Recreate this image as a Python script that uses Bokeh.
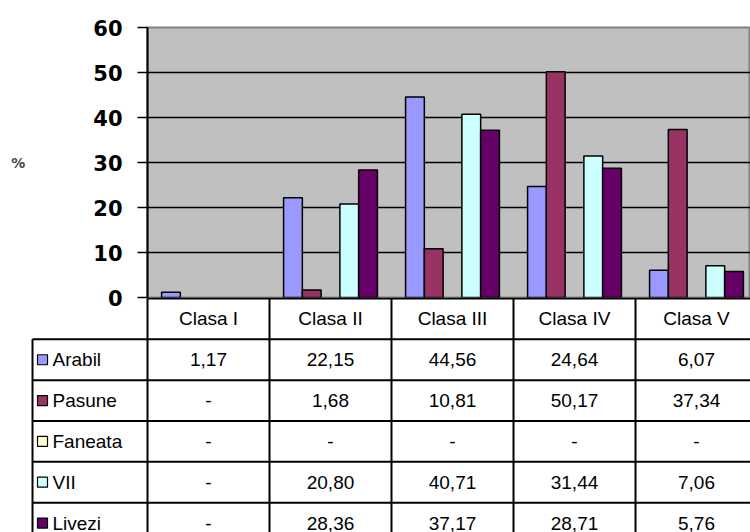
from bokeh.plotting import figure
from bokeh.models import Range1d, FixedTicker, ColumnDataSource
from bokeh.layouts import column
from bokeh.embed import file_html
from bokeh.resources import INLINE
from bokeh.core.properties import value

categories = ["Clasa I", "Clasa II", "Clasa III", "Clasa IV", "Clasa V"]
series_names = ["Arabil", "Pasune", "Faneata", "VII", "Livezi"]
colors = ["#9999FF", "#993366", "#FFFFCC", "#CCFFFF", "#660066"]
arabil = [1.17, 22.15, 44.56, 24.64, 6.07]
pasune = [None, 1.68, 10.81, 50.17, 37.34]
faneata = [None, None, None, None, None]
vii = [None, 20.80, 40.71, 31.44, 7.06]
livezi = [None, 28.36, 37.17, 28.71, 5.76]
y_ticks = [0, 10, 20, 30, 40, 50, 60]

series_values = [arabil, pasune, faneata, vii, livezi]

CAT_PX = 122.0
ROW_PX = 41.0
W = 750
FRAME_TOP = 27
FRAME_BOTTOM = 297
OVERLAP = 14
TOP_H = FRAME_BOTTOM + OVERLAP
BOT_H = 532 - FRAME_BOTTOM
LEFT = 147  # frame left in px
TABLE_FONT = "19px"
n_cat = len(categories)
n_ser = len(series_names)
slots = n_ser + 1.5
bar_w = 1.0 / slots
xmax = (W - LEFT) / CAT_PX

# ---------------- chart ----------------
p = figure(width=W, height=TOP_H, output_backend="svg", toolbar_location=None,
           x_range=Range1d(0, xmax), y_range=Range1d(0, 60),
           x_axis_location=None, min_border_left=LEFT, min_border_right=0,
           min_border_top=FRAME_TOP, min_border_bottom=OVERLAP)
p.frame_align = False
p.background_fill_color = "#C0C0C0"
p.border_fill_color = "white"
p.outline_line_color = "#808080"
p.outline_line_width = 2
p.xgrid.visible = False
p.ygrid.ticker = FixedTicker(ticks=y_ticks)
p.ygrid.grid_line_color = "black"
p.ygrid.grid_line_width = 1.5
p.yaxis.ticker = FixedTicker(ticks=y_ticks)
p.yaxis.minor_tick_line_color = None
p.yaxis.major_tick_in = 0
p.yaxis.major_tick_out = 10
p.yaxis.major_tick_line_width = 1.5
p.yaxis.axis_line_width = 2
p.yaxis.major_label_standoff = 15
p.yaxis.major_label_text_font = "DejaVu Sans"
p.yaxis.major_label_text_font_style = "bold"
p.yaxis.major_label_text_font_size = "21px"
p.yaxis.major_label_text_color = "black"
p.yaxis.axis_label = "%"
p.yaxis.axis_label_orientation = "horizontal"
p.yaxis.axis_label_text_font = "DejaVu Sans"
p.yaxis.axis_label_text_font_style = "bold"
p.yaxis.axis_label_text_font_size = "14px"
p.yaxis.axis_label_standoff = 65

for j, (name, vals, col) in enumerate(zip(series_names, series_values, colors)):
    xs, tops = [], []
    for i, v in enumerate(vals):
        if v is not None:
            xs.append(i + (0.75 + j + 0.5) * bar_w)
            tops.append(v)
    if xs:
        src = ColumnDataSource(dict(x=xs, top=tops))
        p.vbar(x="x", top="top", bottom=0, width=bar_w, source=src,
               fill_color=col, line_color="black", line_width=1.5)

# ---------------- table ----------------
xl = -115.0 / CAT_PX
ymax = BOT_H / ROW_PX
t = figure(width=W, height=BOT_H, output_backend="svg", toolbar_location=None,
           x_range=Range1d(-LEFT / CAT_PX, xmax), y_range=Range1d(ymax, -1.0 / ROW_PX),
           x_axis_location=None, y_axis_location=None,
           min_border_left=0, min_border_right=0, min_border_top=0, min_border_bottom=0)
t.frame_align = False
t.styles = {"margin-top": f"-{OVERLAP}px"}
t.outline_line_color = None
t.xgrid.visible = False
t.ygrid.visible = False
t.background_fill_color = None
t.border_fill_color = None

hx0, hx1, hy = [0.0], [xmax], [0.0]
for r in range(1, n_ser + 1):
    hx0.append(xl); hx1.append(xmax); hy.append(float(r))
t.segment(x0=hx0, y0=hy, x1=hx1, y1=hy, line_color="black", line_width=2)
vx, vy0 = [xl], [1.0]
for c in range(n_cat):
    vx.append(float(c)); vy0.append(0.0)
t.segment(x0=vx, y0=vy0, x1=vx, y1=[ymax + 1] * len(vx), line_color="black", line_width=2)

# header
t.text(x=[i + 0.5 for i in range(n_cat)], y=[0.5] * n_cat, text=categories,
       text_align="center", text_baseline="middle", text_font=value("Liberation Sans"),
       text_font_size=TABLE_FONT, text_color="black")

# legend keys and labels
key_x = (42 - LEFT) / CAT_PX
lab_x = (52 - LEFT) / CAT_PX
rows_y = [r + 1.5 for r in range(n_ser)]
t.rect(x=[key_x] * n_ser, y=rows_y, width=10, height=10, width_units="screen",
       height_units="screen", fill_color=colors, line_color="black", line_width=1.2)
t.text(x=[lab_x] * n_ser, y=rows_y, text=series_names, text_align="left",
       text_baseline="middle", text_font=value("Liberation Sans"),
       text_font_size=TABLE_FONT, text_color="black")

# values
cx, cy, ct = [], [], []
for j, vals in enumerate(series_values):
    for i, v in enumerate(vals):
        cx.append(i + 0.5)
        cy.append(j + 1.5)
        ct.append("-" if v is None else f"{v:.2f}".replace(".", ","))
t.text(x=cx, y=cy, text=ct, text_align="center", text_baseline="middle",
       text_font=value("Liberation Sans"), text_font_size=TABLE_FONT, text_color="black")

layout = column(p, t, spacing=0)
open("out.html", "w").write(file_html(layout, INLINE))
